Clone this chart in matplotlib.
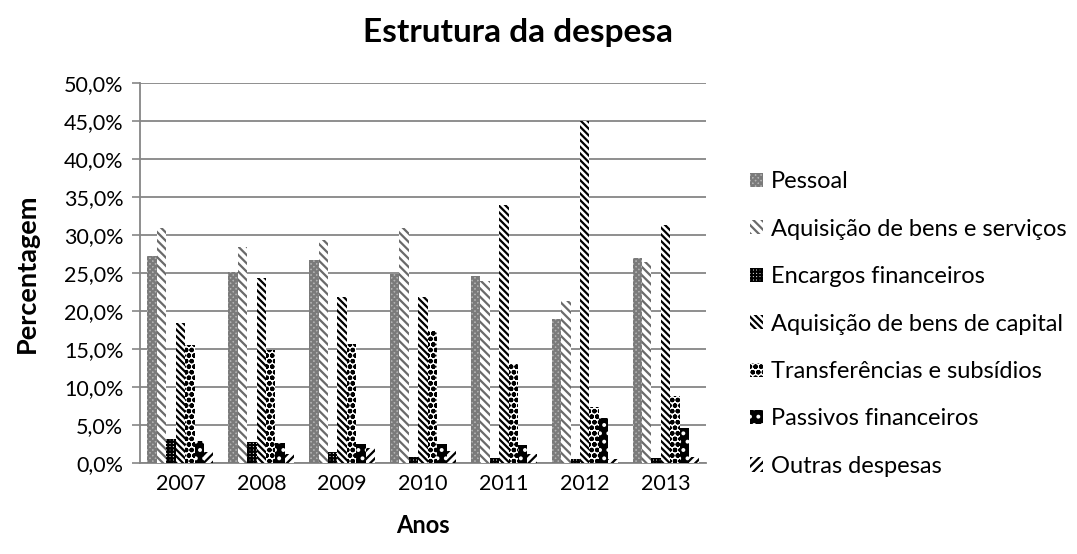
import numpy as np
import matplotlib.pyplot as plt

def pct(v, pos):
   return ("%.1f%%" % v).replace(".", ",")
#end pct

'''
This is run only if called directly by python
and not imported as a module.
'''
if __name__ == "__main__":

   plt.rcParams['font.family'] = ['Lato', 'DejaVu Sans']
   plt.rcParams['hatch.linewidth'] = 1.6

   anos = ["2007", "2008", "2009", "2010", "2011", "2012", "2013"]

   '''
     percentagem de cada rubrica por ano
   '''
   despesa = {
      "Pessoal":                         [27.2, 25.1, 26.7, 24.9, 24.6, 19.0, 27.0],
      "Aquisição de bens e serviços":    [31.0, 28.5, 29.3, 30.9, 24.0, 21.3, 26.5],
      "Encargos financeiros":            [3.2, 2.8, 1.5, 0.8, 0.7, 0.5, 0.7],
      "Aquisição de bens de capital":    [18.5, 24.3, 21.9, 21.8, 33.9, 45.0, 31.3],
      "Transferências e subsídios":      [15.5, 14.9, 15.7, 17.4, 13.0, 7.4, 8.8],
      "Passivos financeiros":            [2.9, 2.7, 2.5, 2.5, 2.4, 6.0, 4.6],
      "Outras despesas":                 [1.5, 1.2, 2.0, 1.6, 1.2, 0.6, 0.8],
   }

   # (cor de fundo, cor do padrao, padrao)
   estilos = [
      ("#b4b4b4", "#7a7a7a", "xxxxxx"),
      ("#ffffff", "#6a6a6a", "\\\\\\\\"),
      ("#ffffff", "#000000", "+++++"),
      ("#ffffff", "#000000", "\\\\\\\\\\"),
      ("#ffffff", "#000000", "ooo"),
      ("#000000", "#ffffff", ".."),
      ("#ffffff", "#000000", "////"),
   ]

   plt.figure(figsize=(10.77, 5.54), dpi=100)
   ax = plt.gca()

   x = np.arange(len(anos))
   w = 0.1166
   for i, (nome, vals) in enumerate(despesa.items()):
      fc, hc, h = estilos[i]
      plt.bar(x + (i - 3) * w, vals, w, color=fc, edgecolor=hc, hatch=h,
              linewidth=0, label=nome, zorder=3)

   plt.ylim(0, 50)
   plt.xlim(-0.5, len(anos) - 0.5)
   plt.yticks(np.arange(0, 51, 5))
   ax.yaxis.set_major_formatter(plt.FuncFormatter(pct))
   plt.xticks(x, anos)
   plt.tick_params(axis="both", labelsize=15.5, colors="#000000")
   plt.tick_params(axis="y", length=6, color="#868686", width=1.2, pad=6)
   plt.tick_params(axis="x", length=0, pad=8)
   plt.grid(axis="y", color="#868686", linewidth=1.3, zorder=0)

   for s in ["top", "right"]:
      ax.spines[s].set_visible(False)
   ax.spines["left"].set_color("#868686")
   ax.spines["bottom"].set_color("#868686")
   ax.spines["left"].set_linewidth(1.3)
   ax.spines["bottom"].set_linewidth(1.3)

   plt.figtext(0.481, 0.942, "Estrutura da despesa", fontsize=24,
               fontweight="bold", ha="center", va="center")
   plt.xlabel("Anos", fontsize=17, fontweight="bold", labelpad=14)
   plt.ylabel("Percentagem", fontsize=19.5, fontweight="bold", labelpad=18)

   plt.legend(loc="center left", bbox_to_anchor=(1.04, 0.366), frameon=False,
              fontsize=17, handlelength=0.55, handleheight=0.55,
              handletextpad=0.35, labelspacing=1.12)

   plt.subplots_adjust(left=0.130, right=0.6555, top=0.850, bottom=0.164)

   plt.savefig("out.png")
